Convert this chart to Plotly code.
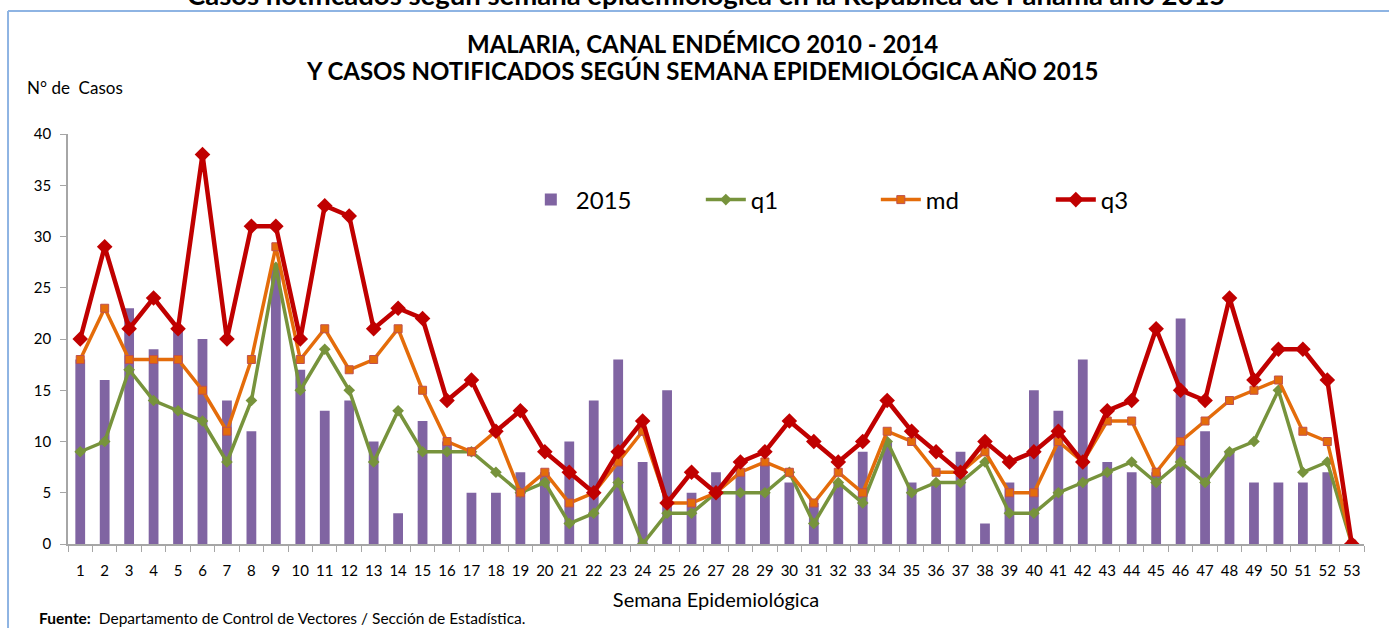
import plotly.graph_objects as go

weeks = list(range(1, 54))
week_labels = [str(w) for w in weeks]

cases_2015 = [18, 16, 23, 19, 21, 20, 14, 11, 27, 17, 13, 14, 10, 3, 12, 10, 5, 5, 7, 7,
              10, 14, 18, 8, 15, 5, 7, 7, 8, 6, 4, 6, 9, 10, 6, 6, 9, 2, 6, 15,
              13, 18, 8, 7, 7, 22, 11, 9, 6, 6, 6, 7, 0]
q1 = [9, 10, 17, 14, 13, 12, 8, 14, 27, 15, 19, 15, 8, 13, 9, 9, 9, 7, 5, 6,
      2, 3, 6, 0, 3, 3, 5, 5, 5, 7, 2, 6, 4, 10, 5, 6, 6, 8, 3, 3,
      5, 6, 7, 8, 6, 8, 6, 9, 10, 15, 7, 8, 0]
md = [18, 23, 18, 18, 18, 15, 11, 18, 29, 18, 21, 17, 18, 21, 15, 10, 9, 11, 5, 7,
      4, 5, 8, 11, 4, 4, 5, 7, 8, 7, 4, 7, 5, 11, 10, 7, 7, 9, 5, 5,
      10, 8, 12, 12, 7, 10, 12, 14, 15, 16, 11, 10, 0]
q3 = [20, 29, 21, 24, 21, 38, 20, 31, 31, 20, 33, 32, 21, 23, 22, 14, 16, 11, 13, 9,
      7, 5, 9, 12, 4, 7, 5, 8, 9, 12, 10, 8, 10, 14, 11, 9, 7, 10, 8, 9,
      11, 8, 13, 14, 21, 15, 14, 24, 16, 19, 19, 16, 0]
y_ticks = [0, 5, 10, 15, 20, 25, 30, 35, 40]

W, H = 1389, 628
PW, PH = 1296.5, 410
ML, MT = 68, 134
MR, MB = W - ML - PW, H - MT - PH


def px(x):
    return (x - ML) / PW


def py(y):
    return (H - MB - y) / PH


FONT = "Lato, 'Open Sans', sans-serif"

fig = go.Figure()
fig.add_trace(go.Bar(x=week_labels, y=cases_2015, name="2015", width=0.4,
                     marker=dict(color="#8064A2", line=dict(width=0))))
fig.add_trace(go.Scatter(x=week_labels, y=q1, name="q1", mode="lines+markers",
                         line=dict(color="#77933C", width=3.5),
                         marker=dict(symbol="diamond", size=9, color="#77933C")))
fig.add_trace(go.Scatter(x=week_labels, y=md, name="md", mode="lines+markers",
                         line=dict(color="#E46C0A", width=3.5),
                         marker=dict(symbol="square", size=8, color="#E46C0A",
                                     line=dict(color="#C0504D", width=1))))
fig.add_trace(go.Scatter(x=week_labels, y=q3, name="q3", mode="lines+markers",
                         line=dict(color="#C00000", width=4.5),
                         marker=dict(symbol="diamond", size=12, color="#C00000")))

fig.update_layout(
    width=W, height=H,
    margin=dict(l=ML, r=MR, t=MT, b=MB, pad=0),
    paper_bgcolor="white", plot_bgcolor="white",
    font=dict(family=FONT, color="#000000", size=15),
    showlegend=True,
    legend=dict(orientation="h", x=px(526), y=py(200), xanchor="left", yanchor="middle",
                font=dict(size=24, family=FONT), bgcolor="rgba(0,0,0,0)",
                itemwidth=40, entrywidth=120, entrywidthmode="pixels"),
    xaxis=dict(type="category", range=[-0.5, 52.5], showgrid=False, showline=True,
               linecolor="#A6A6A6", linewidth=1.5, ticks="outside", ticklen=6,
               tickcolor="#A6A6A6", tickson="boundaries", tickfont=dict(size=15),
               tickangle=0, ticklabelstandoff=12,
               title=dict(text="Semana Epidemiológica", font=dict(size=20), standoff=15)),
    yaxis=dict(range=[0, 40], tickvals=y_ticks, showgrid=False, showline=True,
               linecolor="#A6A6A6", linewidth=1.5, ticks="outside", ticklen=6,
               tickcolor="#A6A6A6", tickfont=dict(size=15), zeroline=False,
               ticklabelstandoff=6),
    annotations=[
        dict(text="<b>MALARIA, CANAL ENDÉMICO 2010 - 2014</b>", x=px(703), y=py(43),
             xref="paper", yref="paper", showarrow=False, font=dict(size=24),
             xanchor="center", yanchor="middle"),
        dict(text="<b>Y CASOS NOTIFICADOS SEGÚN SEMANA EPIDEMIOLÓGICA AÑO 2015</b>",
             x=px(703), y=py(70), xref="paper", yref="paper", showarrow=False,
             font=dict(size=24), xanchor="center", yanchor="middle"),
        dict(text="N° de  Casos", x=px(25), y=py(88), xref="paper", yref="paper",
             showarrow=False, font=dict(size=17), xanchor="left", yanchor="middle"),
        dict(text="<b>Fuente:</b>  Departamento de Control de Vectores / Sección de Estadística.",
             x=px(37), y=py(618), xref="paper", yref="paper", showarrow=False,
             font=dict(size=15.5), xanchor="left", yanchor="middle"),
        dict(text="<b>Casos notificados según semana epidemiológica en la República de Panamá año 2015</b>",
             x=px(706), y=py(-5), xref="paper", yref="paper", showarrow=False,
             font=dict(size=27.5), xanchor="center", yanchor="middle"),
    ],
    shapes=[
        dict(type="line", xref="paper", yref="paper", x0=px(8), x1=px(W + 20),
             y0=py(11), y1=py(11), line=dict(color="#8EB4E3", width=2)),
        dict(type="line", xref="paper", yref="paper", x0=px(8), x1=px(8),
             y0=py(11), y1=py(H + 20), line=dict(color="#8EB4E3", width=2)),
    ],
)

fig.write_html("out.html", config={"displayModeBar": False},
               post_script="document.body.style.margin='0px';document.body.style.overflow='hidden';")
